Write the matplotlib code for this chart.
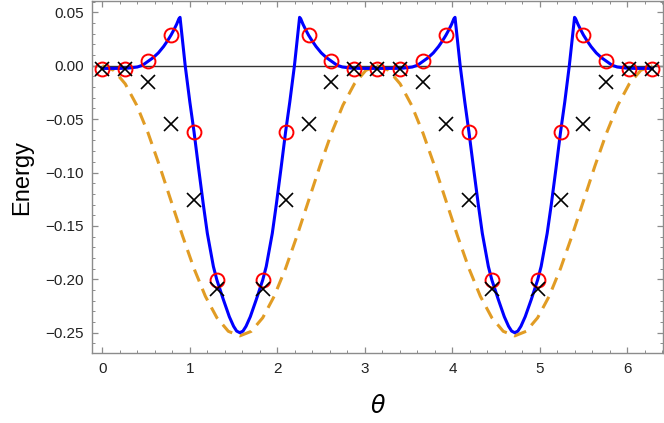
import numpy as np
import matplotlib
matplotlib.use('Agg')
import matplotlib.pyplot as plt
from matplotlib.ticker import MultipleLocator, FuncFormatter

plt.rcParams['font.family'] = ['Liberation Sans', 'DejaVu Sans']

# --- data ---
# solid blue curve
blue_theta = [0.000, 0.100, 0.200, 0.300, 0.400, 0.460, 0.520, 0.580, 0.640, 0.700,
              0.750, 0.785, 0.820, 0.850, 0.875, 0.888, 0.947, 1.000, 1.048, 1.100,
              1.154, 1.200, 1.269, 1.309, 1.383, 1.451, 1.500, 1.535, 1.571, 1.607,
              1.642, 1.691, 1.759, 1.833, 1.873, 1.942, 1.988, 2.042, 2.094, 2.142,
              2.195, 2.254, 2.267, 2.292, 2.322, 2.356, 2.392, 2.442, 2.502, 2.562,
              2.622, 2.682, 2.742, 2.842, 2.942, 3.042, 3.142, 3.242, 3.342, 3.442,
              3.542, 3.602, 3.662, 3.722, 3.782, 3.842, 3.892, 3.927, 3.962, 3.992,
              4.017, 4.030, 4.089, 4.142, 4.189, 4.242, 4.296, 4.342, 4.411, 4.451,
              4.525, 4.593, 4.642, 4.677, 4.712, 4.748, 4.783, 4.832, 4.901, 4.974,
              5.014, 5.083, 5.130, 5.184, 5.236, 5.284, 5.336, 5.396, 5.408, 5.434,
              5.464, 5.498, 5.534, 5.584, 5.644, 5.704, 5.764, 5.824, 5.884, 5.984,
              6.084, 6.183, 6.283]
blue_energy = [-0.0025, -0.0025, -0.0025, -0.0022, -0.0012, 0.0005, 0.0040, 0.0075, 0.0120, 0.0180,
               0.0240, 0.0287, 0.0340, 0.0390, 0.0440, 0.0453, 0.0000, -0.0340, -0.0620, -0.0960,
               -0.1300, -0.1570, -0.1880, -0.2006, -0.2190, -0.2350, -0.2440, -0.2485, -0.2500, -0.2485,
               -0.2440, -0.2350, -0.2190, -0.2006, -0.1880, -0.1570, -0.1300, -0.0960, -0.0620, -0.0340,
               0.0000, 0.0453, 0.0440, 0.0390, 0.0340, 0.0287, 0.0240, 0.0180, 0.0120, 0.0075,
               0.0040, 0.0005, -0.0012, -0.0022, -0.0025, -0.0025, -0.0025, -0.0025, -0.0025, -0.0022,
               -0.0012, 0.0005, 0.0040, 0.0075, 0.0120, 0.0180, 0.0240, 0.0287, 0.0340, 0.0390,
               0.0440, 0.0453, 0.0000, -0.0340, -0.0620, -0.0960, -0.1300, -0.1570, -0.1880, -0.2006,
               -0.2190, -0.2350, -0.2440, -0.2485, -0.2500, -0.2485, -0.2440, -0.2350, -0.2190, -0.2006,
               -0.1880, -0.1570, -0.1300, -0.0960, -0.0620, -0.0340, 0.0000, 0.0453, 0.0440, 0.0390,
               0.0340, 0.0287, 0.0240, 0.0180, 0.0120, 0.0075, 0.0040, 0.0005, -0.0012, -0.0022,
               -0.0025, -0.0025, -0.0025]

# dashed orange curve
orange_theta = [0.000, 0.131, 0.262, 0.393, 0.524, 0.654, 0.785, 0.916, 1.047, 1.178,
                1.309, 1.440, 1.571, 1.702, 1.833, 1.963, 2.094, 2.225, 2.356, 2.487,
                2.618, 2.749, 2.880, 3.011, 3.142, 3.272, 3.403, 3.534, 3.665, 3.796,
                3.927, 4.058, 4.189, 4.320, 4.451, 4.581, 4.712, 4.843, 4.974, 5.105,
                5.236, 5.367, 5.498, 5.629, 5.760, 5.890, 6.021, 6.152, 6.283]
orange_energy = [0.0000, -0.0043, -0.0170, -0.0370, -0.0633, -0.0938, -0.1265, -0.1592, -0.1898, -0.2160,
                 -0.2360, -0.2487, -0.2530, -0.2487, -0.2360, -0.2160, -0.1898, -0.1592, -0.1265, -0.0938,
                 -0.0633, -0.0370, -0.0170, -0.0043, 0.0000, -0.0043, -0.0170, -0.0370, -0.0633, -0.0938,
                 -0.1265, -0.1592, -0.1898, -0.2160, -0.2360, -0.2487, -0.2530, -0.2487, -0.2360, -0.2160,
                 -0.1898, -0.1592, -0.1265, -0.0938, -0.0633, -0.0370, -0.0170, -0.0043, 0.0000]

# marker samples (red circles and black X)
marker_theta = [0.000, 0.262, 0.524, 0.785, 1.047, 1.309, 1.833, 2.094, 2.356, 2.618,
                2.880, 3.142, 3.403, 3.665, 3.927, 4.189, 4.451, 4.974, 5.236, 5.498,
                5.760, 6.021, 6.283]
circle_energy = [-0.0030, -0.0030, 0.0040, 0.0287, -0.0620, -0.2006, -0.2006, -0.0620, 0.0287, 0.0040,
                 -0.0030, -0.0030, -0.0030, 0.0040, 0.0287, -0.0620, -0.2006, -0.2006, -0.0620, 0.0287,
                 0.0040, -0.0030, -0.0030]
x_energy = [-0.0030, -0.0030, -0.0156, -0.0545, -0.1260, -0.2094, -0.2094, -0.1260, -0.0545, -0.0156,
            -0.0030, -0.0030, -0.0030, -0.0156, -0.0545, -0.1260, -0.2094, -0.2094, -0.1260, -0.0545,
            -0.0156, -0.0030, -0.0030]

# --- figure ---
fig = plt.figure(figsize=(6.64, 4.23), dpi=100)
ax = fig.add_axes([92 / 664, (423 - 353.3) / 423, (663.3 - 92) / 664, (353.3 - 0.7) / 423])

ax.axhline(0, color='#333333', linewidth=1.0, zorder=1)
ax.plot(orange_theta, orange_energy, color='#E19C24', linewidth=2.2,
        dashes=(4.2, 2.6), zorder=2)
ax.plot(blue_theta, blue_energy, color='#0000FF', linewidth=2.2, zorder=3)
ax.plot(marker_theta, circle_energy, linestyle='none', marker='o', markersize=10,
        markerfacecolor='none', markeredgecolor='#FF0000', markeredgewidth=1.4, zorder=4)
ax.plot(marker_theta, x_energy, linestyle='none', marker='x', markersize=10,
        color='black', markeredgewidth=1.2, zorder=5)

ax.set_xlim(-0.118, 6.41)
ax.set_ylim(-0.2693, 0.0609)

ax.xaxis.set_major_locator(MultipleLocator(1))
ax.xaxis.set_minor_locator(MultipleLocator(0.2))
ax.yaxis.set_major_locator(MultipleLocator(0.05))
ax.yaxis.set_minor_locator(MultipleLocator(0.01))
ax.yaxis.set_major_formatter(FuncFormatter(lambda v, p: f'{v:.2f}'.replace('-', '\u2212')))

for s in ax.spines.values():
    s.set_color('#8c8c8c')
    s.set_linewidth(1.0)
ax.tick_params(which='both', direction='in', top=True, right=True,
               color='#8c8c8c', labelsize=11, labelcolor='#222222')
ax.tick_params(which='major', length=4.5, width=0.9, pad=6)
ax.tick_params(which='minor', length=2.5, width=0.7)

ax.set_xlabel(r'$\theta$', fontsize=17, labelpad=14)
ax.set_ylabel('Energy', fontsize=17, labelpad=9)

fig.savefig('out.png', dpi=100)
